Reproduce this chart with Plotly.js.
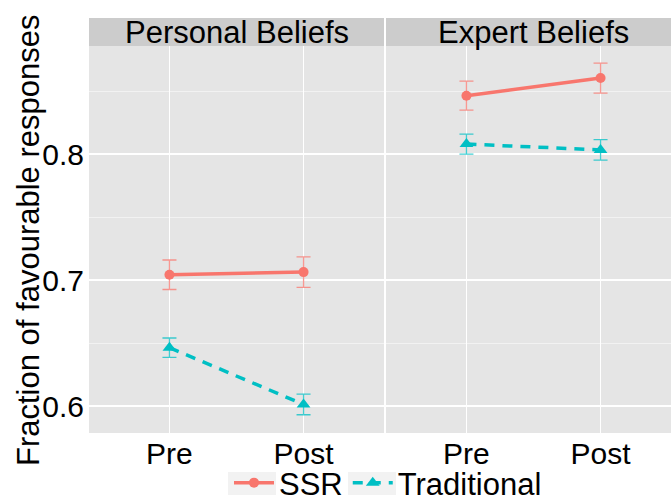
<!DOCTYPE html>
<html>
<head>
<meta charset="utf-8">
<script src="https://cdn.plot.ly/plotly-3.0.1.min.js"></script>
<style>html,body{margin:0;padding:0;background:#fff;}#chart{width:671px;height:496px;}</style>
</head>
<body>
<div id="chart"></div>
<script>
// ---- data ----
const phases = ['Pre', 'Post'];
const facets = ['Personal Beliefs', 'Expert Beliefs'];
const ssrPersonal = [0.7042, 0.7063];
const ssrPersonalErr = [0.0117, 0.0121];
const tradPersonal = [0.6463, 0.6013];
const tradPersonalErr = [0.0077, 0.0082];
const ssrExpert = [0.8463, 0.8603];
const ssrExpertErr = [0.0115, 0.0119];
const tradExpert = [0.8079, 0.8033];
const tradExpertErr = [0.0079, 0.0081];
const yTicks = [0.6, 0.7, 0.8];
const yMinor = [0.65, 0.75, 0.85];

const RED = '#F8766D', CYAN = '#00BFC4';
const FONT = 'Liberation Sans, Arial, Helvetica, sans-serif';

function series(name, y, err, xa, color, dash, symbol, show) {
  return {
    type: 'scatter', mode: 'lines+markers', name: name, legendgroup: name,
    showlegend: show, x: phases, y: y, xaxis: xa, yaxis: 'y',
    line: {color: color, width: 3.5, dash: dash},
    marker: {color: color, size: symbol === 'circle' ? 10 : 12, symbol: symbol},
    error_y: {type: 'data', array: err, visible: true,
      color: color === RED ? 'rgba(248,118,109,0.75)' : 'rgba(0,191,196,0.75)',
      thickness: 1.3, width: 7}
  };
}

const traces = [
  series('SSR', ssrPersonal, ssrPersonalErr, 'x', RED, 'solid', 'circle', true),
  series('Traditional', tradPersonal, tradPersonalErr, 'x', CYAN, '10px,8px', 'triangle-up', true),
  series('SSR', ssrExpert, ssrExpertErr, 'x2', RED, 'solid', 'circle', false),
  series('Traditional', tradExpert, tradExpertErr, 'x2', CYAN, '10px,8px', 'triangle-up', false)
];

const W = 671, H = 496, L = 89, T = 46, B = 63;
const pw = W - L, ph = H - T - B;
const d1 = [0, 295 / pw], d2 = [297 / pw, 1];
const unit = 295 / 2.2;
const r2 = -0.6 + (W - (L + 297)) / unit;

const xbase = {
  type: 'category', categoryorder: 'array', categoryarray: phases,
  showgrid: true, gridcolor: '#FFFFFF', gridwidth: 1.5, zeroline: false, showline: false,
  ticks: '', tickfont: {family: FONT, size: 30, color: '#000'}, ticklabelstandoff: 0,
  fixedrange: true
};

const stripTop = 1 + 28 / ph;
const px2x = p => (p - L) / pw;
const py2y = p => (H - B - p) / ph;
const keyBox = (cx) => ({type: 'rect', xref: 'paper', yref: 'paper',
  x0: px2x(cx - 24), x1: px2x(cx + 24), y0: py2y(495), y1: py2y(472),
  fillcolor: '#F2F2F2', line: {width: 0}, layer: 'below'});
const layout = {
  width: W, height: H,
  margin: {l: L, r: 0, t: T, b: B, pad: 0, autoexpand: false},
  paper_bgcolor: '#FFFFFF', plot_bgcolor: '#E5E5E5',
  font: {family: FONT, color: '#000'},
  xaxis: Object.assign({}, xbase, {domain: d1, range: [-0.6, 1.6], anchor: 'y'}),
  xaxis2: Object.assign({}, xbase, {domain: d2, range: [-0.6, r2], anchor: 'y'}),
  yaxis: {
    range: [0.5786, 0.5786 + ph / 1260], tickvals: yTicks, ticktext: yTicks.map(v => v.toFixed(1)),
    showgrid: true, gridcolor: '#FFFFFF', gridwidth: 1.5, zeroline: false, showline: false,
    minor: {tickvals: yMinor, showgrid: true, gridcolor: '#F2F2F2', gridwidth: 1, ticks: ''},
    ticks: '', tickfont: {family: FONT, size: 30, color: '#000'}, ticklabelstandoff: 4,
    anchor: 'x', fixedrange: true
  },
  showlegend: true,
  legend: {
    orientation: 'h', xref: 'paper', yref: 'paper', x: px2x(388), xanchor: 'center',
    y: py2y(483), yanchor: 'middle', font: {family: FONT, size: 31, color: '#000'},
    bgcolor: 'rgba(0,0,0,0)', itemwidth: 40, tracegroupgap: 0
  },
  shapes: [
    {type: 'rect', xref: 'paper', yref: 'paper', x0: d1[0], x1: d1[1], y0: 1, y1: stripTop,
      fillcolor: '#CCCCCC', line: {width: 0}, layer: 'below'},
    {type: 'rect', xref: 'paper', yref: 'paper', x0: d2[0], x1: d2[1], y0: 1, y1: stripTop,
      fillcolor: '#CCCCCC', line: {width: 0}, layer: 'below'},
    keyBox(252), keyBox(372)
  ],
  annotations: [
    {text: facets[0], xref: 'paper', yref: 'paper', x: (d1[0] + d1[1]) / 2, y: (1 + stripTop) / 2,
      xanchor: 'center', yanchor: 'middle', showarrow: false, font: {family: FONT, size: 31, color: '#000'}},
    {text: facets[1], xref: 'paper', yref: 'paper', x: px2x(533.5), y: (1 + stripTop) / 2,
      xanchor: 'center', yanchor: 'middle', showarrow: false, font: {family: FONT, size: 31, color: '#000'}},
    {text: 'Fraction of favourable responses', xref: 'paper', yref: 'paper', x: px2x(28),
      y: py2y(241), xanchor: 'center', yanchor: 'middle', textangle: -90, showarrow: false,
      font: {family: FONT, size: 31, color: '#000'}}
  ]
};

Plotly.newPlot('chart', traces, layout, {displayModeBar: false, staticPlot: true});
</script>
</body>
</html>
